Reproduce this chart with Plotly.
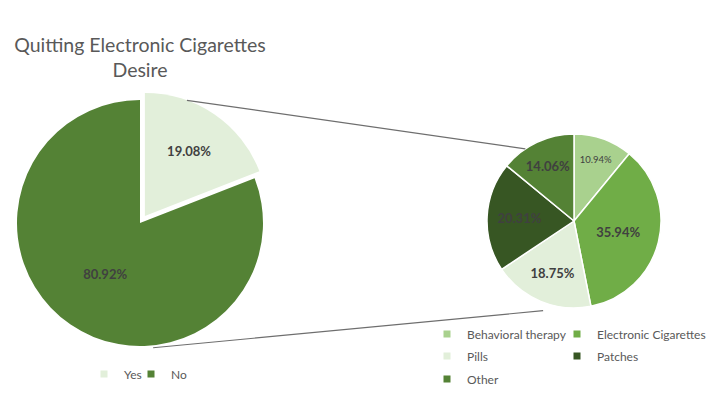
import math
import plotly.graph_objects as go

# ---------------- data ----------------
main_labels = ["Yes", "No"]
main_values = [19.08, 80.92]
main_colors = ["#E2EFDA", "#548235"]

sub_labels = ["Behavioral therapy", "Electronic Cigarettes", "Pills", "Patches", "Other"]
sub_values = [10.94, 35.94, 18.75, 20.31, 14.06]
sub_colors = ["#A9D18E", "#70AD47", "#E2EFDA", "#375623", "#548235"]

title_text = "Quitting Electronic Cigarettes<br>Desire"

# ---------------- layout geometry (screen pixels) ----------------
W, H = 723, 404
OFF = 8  # page body margin offset
BIG_CX, BIG_CY, BIG_R, PULL = 140, 223, 123, 0.07
SUB_CX, SUB_CY, SUB_R = 574, 221, 87

FONT = "Lato"
GRAY = "#595959"
LABEL = "#404040"


def px(x):
    return (x - OFF) / W


def py(y):
    return 1 - (y - OFF) / H


def domain(cx, cy, r, pull=0.0):
    half = r * (1 + pull)
    return dict(x=[max(0.0, px(cx - half)), px(cx + half)],
                y=[py(cy + half), py(cy - half)])


def polar(cx, cy, r, ang):
    a = math.radians(ang)
    return cx + r * math.sin(a), cy - r * math.cos(a)


fig = go.Figure()

fig.add_trace(go.Pie(
    labels=main_labels, values=main_values, sort=False, direction="clockwise",
    rotation=0, pull=[PULL, 0],
    marker=dict(colors=main_colors, line=dict(color="white", width=0)),
    texttemplate="%{value:.2f}%", textposition="inside",
    insidetextorientation="horizontal",
    textfont=dict(family=FONT, size=13, color=LABEL, weight="bold"),
    domain=domain(BIG_CX, BIG_CY, BIG_R, PULL), showlegend=False,
    hoverinfo="label+value",
))

fig.add_trace(go.Pie(
    labels=sub_labels, values=sub_values, sort=False, direction="clockwise",
    rotation=0,
    marker=dict(colors=sub_colors, line=dict(color="white", width=1.5)),
    texttemplate="%{value:.2f}%", textposition="inside",
    insidetextorientation="horizontal",
    textfont=dict(family=FONT, size=[9.5, 13, 13, 13, 13], color=LABEL,
                  weight=["normal", "bold", "bold", "bold", "bold"]),
    domain=domain(SUB_CX, SUB_CY, SUB_R), showlegend=False,
    hoverinfo="label+value",
))

# ---------------- legend entries (one legend per entry to place them) ----------------
# (symbol centre x, row centre y) in screen pixels
legend_pos = [(103, 374), (150, 374),
              (446, 334), (576, 334), (446, 356), (576, 356), (446, 379)]
all_labels = main_labels + sub_labels
all_colors = main_colors + sub_colors
legend_layout = {}
for i, (lab, col) in enumerate(zip(all_labels, all_colors)):
    key = "legend" if i == 0 else f"legend{i + 1}"
    fig.add_trace(go.Scatter(
        x=[None], y=[None], mode="markers", name=lab,
        marker=dict(symbol="square", size=7, color=col),
        legend=key, showlegend=True, hoverinfo="skip",
    ))
    sx, sy = legend_pos[i]
    legend_layout[key] = dict(
        x=px(sx - 19), y=py(sy), xanchor="left", yanchor="middle",
        orientation="h", bgcolor="rgba(0,0,0,0)", borderwidth=0,
        font=dict(family=FONT, size=12, color=GRAY),
    )

# ---------------- connector lines ----------------
mid = 360 * main_values[0] / sum(main_values) / 2
ex_cx, ex_cy = polar(BIG_CX, BIG_CY, BIG_R * PULL, mid)
lines = [
    (polar(ex_cx, ex_cy, BIG_R, 20), polar(SUB_CX, SUB_CY, SUB_R, 326)),
    (polar(BIG_CX, BIG_CY, BIG_R * 1.02, 174), polar(SUB_CX, SUB_CY, SUB_R * 1.09, 199)),
]
shapes = []
for a, b in lines:
    shapes.append(dict(type="line", xref="paper", yref="paper",
                       x0=px(a[0]), y0=py(a[1]), x1=px(b[0]), y1=py(b[1]),
                       line=dict(color="#6E6E6E", width=1.2)))

fig.update_layout(
    width=W, height=H,
    margin=dict(l=0, r=0, t=0, b=0),
    paper_bgcolor="white", plot_bgcolor="white",
    title=dict(text=title_text, x=px(BIG_CX), xanchor="center",
               y=py(52), yanchor="top",
               font=dict(family=FONT, size=19.5, color=GRAY)),
    xaxis=dict(visible=False), yaxis=dict(visible=False),
    shapes=shapes,
    **legend_layout,
)

fig.write_html("out.html")
